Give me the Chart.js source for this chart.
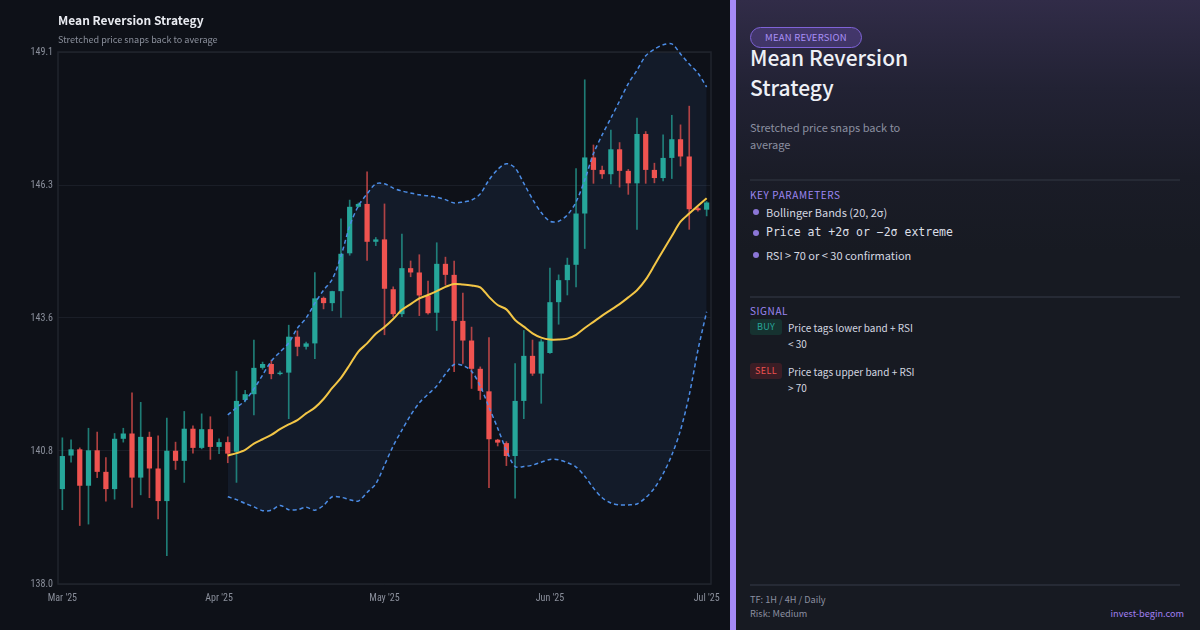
<!DOCTYPE html>
<html><head><meta charset="utf-8">
<script src="https://cdn.jsdelivr.net/npm/chart.js@4.4.1/dist/chart.umd.min.js"></script>
<style>
html,body{margin:0;padding:0;width:1200px;height:630px;overflow:hidden;background:#0e1118;font-family:'Noto Sans CJK KR','Noto Sans',sans-serif;}
#left{position:absolute;left:0;top:0;width:730px;height:630px;background:#0e1118;}
#c{position:absolute;left:0;top:0;}
#title{position:absolute;left:58px;top:11px;font-size:12px;font-weight:700;color:#e9ebf1;white-space:nowrap;}
#sub{position:absolute;left:58px;top:32px;font-size:9.1px;color:#8a8f9b;white-space:nowrap;}
#accent{position:absolute;left:730px;top:0;width:6px;height:630px;background:#a58af6;}
#right{position:absolute;left:736px;top:0;width:464px;height:630px;background:linear-gradient(180deg,#312c48 0%,#222234 14%,#1a1c27 28%,#171a22 40%,#171a22 100%);}
.abs{position:absolute;white-space:nowrap;}
#pill{left:750px;top:27px;width:110px;height:19px;border:1px solid #7f63d8;border-radius:11px;background:rgba(124,95,214,0.28);color:#a88ff7;font-size:9.5px;text-align:center;line-height:19px;letter-spacing:0.2px;}
#rtitle{left:750px;top:42px;font-size:21px;font-weight:500;color:#eef0f6;line-height:30px;}
#rsub{left:750px;top:119px;font-size:11px;color:#8b8fa0;line-height:17px;}
.div{position:absolute;left:750px;width:430px;height:2px;background:#262a35;}
.hdr{font-size:10px;letter-spacing:0.6px;color:#9d86f2;}
.bul{font-size:11px;color:#d4d7e0;}
.dot{position:absolute;width:6px;height:6px;border-radius:3px;background:#8b76d6;}
.mono{font-family:'DejaVu Sans Mono',monospace;font-size:11.5px;color:#dcdfe7;}
.badge{position:absolute;left:750px;width:32px;height:16px;border-radius:3px;font-size:9px;text-align:center;line-height:16px;letter-spacing:0.4px;}
.sig{font-size:10px;color:#d4d7e0;line-height:16px;}
.foot{font-size:9.2px;color:#8b8fa0;}
</style></head>
<body>
<div id="left"></div>
<canvas id="c" width="730" height="630"></canvas>
<div id="title">Mean Reversion Strategy</div>
<div id="sub">Stretched price snaps back to average</div>
<div id="accent"></div>
<div id="right"></div>
<div id="pill" class="abs">MEAN REVERSION</div>
<div id="rtitle" class="abs">Mean Reversion<br>Strategy</div>
<div id="rsub" class="abs">Stretched price snaps back to<br>average</div>
<div class="div" style="top:179px"></div>
<div class="abs hdr" style="left:750px;top:187px;">KEY PARAMETERS</div>
<div class="dot" style="left:753px;top:209px"></div>
<div class="abs bul" style="left:766px;top:204px;">Bollinger Bands (20, 2σ)</div>
<div class="dot" style="left:753px;top:230px"></div>
<div class="abs mono" style="left:766px;top:225px;">Price at +2σ or −2σ extreme</div>
<div class="dot" style="left:753px;top:252px"></div>
<div class="abs bul" style="left:766px;top:247px;">RSI &gt; 70 or &lt; 30 confirmation</div>
<div class="div" style="top:296px"></div>
<div class="abs hdr" style="left:750px;top:303px;">SIGNAL</div>
<div class="badge" style="top:319px;background:#163230;color:#26a69a;">BUY</div>
<div class="abs sig" style="left:788px;top:320px;">Price tags lower band + RSI<br>&lt; 30</div>
<div class="badge" style="top:363px;background:#3b1d25;color:#ef5350;">SELL</div>
<div class="abs sig" style="left:788px;top:364px;">Price tags upper band + RSI<br>&gt; 70</div>
<div class="div" style="top:584px"></div>
<div class="abs foot" style="left:750px;top:592px;">TF: 1H / 4H / Daily</div>
<div class="abs foot" style="left:750px;top:606px;">Risk: Medium</div>
<div class="abs foot" style="right:16px;top:606px;color:#a07ff0;">invest-begin.com</div>
<script>
// ---- data ----
const xTickLabels = {0: "Mar '25", 18: "Apr '25", 37: "May '25", 56: "Jun '25", 74: "Jul '25"};
const yTickValues = [138.0, 140.775, 143.55, 146.325, 149.1];
const yTickLabels = ["138.0", "140.8", "143.6", "146.3", "149.1"];
const opens  = [139.98,140.68,140.81,140.05,140.79,140.34,139.98,141.03,141.14,140.22,141.07,140.41,139.73,140.78,140.57,141.24,140.84,141.23,140.86,140.96,
                140.76,141.84,141.96,142.51,142.59,142.38,142.41,143.16,142.95,143.02,143.97,143.86,144.11,144.90,145.87,145.93,145.14,145.19,144.15,143.63,
                144.59,144.50,144.02,143.66,144.68,144.45,143.49,143.08,142.49,142.02,141.01,140.94,140.67,141.82,142.76,142.39,142.82,143.88,144.34,144.66,
                145.73,146.90,146.64,146.55,147.07,146.62,146.36,147.39,146.64,146.47,146.89,147.28,146.92,145.84,145.81];
const highs  = [141.05,141.01,140.84,141.25,141.17,140.64,141.14,141.25,141.99,141.79,141.17,141.09,141.46,140.96,141.60,141.30,141.55,141.49,141.03,141.07,
                142.44,142.04,143.09,142.63,142.67,142.44,143.40,143.28,143.05,144.50,143.99,144.11,145.62,146.01,145.95,146.60,145.23,145.93,144.20,145.30,
                144.74,144.87,144.32,145.12,144.82,144.74,144.07,143.36,142.53,143.14,141.02,140.97,142.60,143.29,143.09,143.10,144.59,144.45,144.80,146.67,
                148.52,147.16,146.72,147.47,147.21,146.65,147.72,147.44,146.78,147.37,147.78,147.58,147.97,145.86,145.98];
const lows   = [139.55,140.54,139.22,139.25,140.22,139.73,139.77,140.96,139.60,139.86,139.80,139.36,138.59,140.39,140.12,140.73,140.82,140.60,140.72,140.53,
                140.12,141.80,141.53,142.48,142.28,142.36,141.45,142.76,142.90,142.70,143.74,143.70,143.56,144.86,145.86,144.75,145.06,143.20,143.58,143.58,
                144.41,143.60,143.63,143.29,144.24,142.43,142.60,142.08,141.85,140.01,140.88,140.47,139.79,141.45,142.35,141.77,142.81,143.42,144.03,144.20,
                145.00,146.36,146.46,146.35,146.28,146.13,145.40,146.36,146.37,146.41,146.46,146.72,145.40,145.78,145.68];
const closes = [140.67,140.81,140.05,140.79,140.34,139.98,141.03,141.14,140.22,141.07,140.41,139.73,140.78,140.57,141.24,140.84,141.23,140.86,140.96,140.72,
                141.82,141.96,142.51,142.59,142.38,142.41,143.16,142.95,143.02,143.96,143.86,144.11,144.89,145.87,145.93,145.14,145.19,144.16,143.63,144.59,
                144.50,144.02,143.65,144.68,144.45,143.49,143.08,142.49,142.03,141.02,140.95,140.67,141.82,142.76,142.39,143.06,143.88,144.34,144.66,145.73,
                146.90,146.64,146.55,147.07,146.62,146.36,147.39,146.64,146.47,146.89,147.28,146.92,145.82,145.80,145.96];
// 20-period SMA and 2-sigma bands (candles 19..74)
const bandStart = 19;
const smaLine = [140.68,140.73,140.80,140.93,141.02,141.11,141.23,141.33,141.42,141.56,141.68,141.86,142.09,142.30,142.57,142.85,143.02,143.22,143.36,143.53,
                 143.72,143.84,143.96,144.03,144.11,144.20,144.26,144.25,144.23,144.19,143.99,143.82,143.73,143.51,143.37,143.23,143.14,143.10,143.10,143.12,
                 143.20,143.34,143.47,143.60,143.72,143.84,143.98,144.13,144.35,144.65,144.96,145.26,145.56,145.73,145.89,146.05];
const upperBand = [141.53,141.68,141.83,142.07,142.36,142.65,142.84,143.03,143.34,143.55,143.86,144.13,144.36,144.84,145.47,145.89,146.14,146.35,146.35,146.26,
                   146.20,146.16,146.12,146.10,146.07,146.02,145.95,145.97,146.01,146.14,146.43,146.65,146.77,146.68,146.36,146.03,145.75,145.57,145.57,145.70,
                   145.97,146.43,146.98,147.37,147.72,148.08,148.44,148.72,149.02,149.16,149.25,149.27,149.06,148.85,148.66,148.37];
const lowerBand = [139.82,139.76,139.68,139.61,139.53,139.54,139.64,139.55,139.55,139.60,139.54,139.64,139.82,139.81,139.76,139.73,139.91,140.09,140.48,140.88,
                   141.21,141.52,141.78,141.96,142.13,142.38,142.58,142.56,142.44,142.13,141.69,141.25,140.79,140.45,140.45,140.48,140.54,140.60,140.59,140.53,
                   140.44,140.25,140.00,139.80,139.69,139.65,139.65,139.67,139.80,140.00,140.30,140.69,141.21,141.94,142.88,143.68];
const categories = opens.map((_, i) => 'D' + (i + 1));

// ---- build ----
const UP = '#26a69a', DOWN = '#ef5350';
const UPW = 'rgba(38,166,154,0.72)', DOWNW = 'rgba(239,83,80,0.72)';
const pad = arr => new Array(bandStart).fill(null).concat(arr);
const bodyColors = opens.map((o, i) => closes[i] >= o ? UP : DOWN);
const wickColors = opens.map((o, i) => closes[i] >= o ? UPW : DOWNW);

Chart.defaults.font.family = "'Liberation Sans Narrow','Roboto Condensed',Roboto,sans-serif";

const framePlugin = {
  id: 'frame',
  beforeDatasetsDraw(chart) {
    const {ctx, chartArea: a} = chart;
    ctx.save();
    ctx.strokeStyle = '#20242d';
    ctx.lineWidth = 1.5;
    ctx.strokeRect(a.left, a.top, a.right - a.left, a.bottom - a.top);
    ctx.restore();
  }
};

new Chart(document.getElementById('c'), {
  data: {
    labels: categories,
    datasets: [
      {type: 'line', label: 'Upper', data: pad(upperBand), borderColor: '#4c8de6', borderWidth: 1.5, borderDash: [4, 3],
       pointRadius: 0, tension: 0.3, fill: {target: 1}, backgroundColor: 'rgba(74,130,220,0.09)', order: 1, clip: false},
      {type: 'line', label: 'Lower', data: pad(lowerBand), borderColor: '#4c8de6', borderWidth: 1.5, borderDash: [4, 3],
       pointRadius: 0, tension: 0.3, fill: false, order: 1, clip: false},
      {type: 'line', label: 'SMA', data: pad(smaLine), borderColor: '#f3c646', borderWidth: 2,
       pointRadius: 0, tension: 0.3, fill: false, order: 0},
      {type: 'bar', label: 'Wick', data: lows.map((l, i) => [l, highs[i]]), backgroundColor: wickColors,
       barThickness: 1, grouped: false, order: 3},
      {type: 'bar', label: 'Body', data: opens.map((o, i) => [o, closes[i]]), backgroundColor: bodyColors,
       barPercentage: 0.6, categoryPercentage: 1, grouped: false, order: 2}
    ]
  },
  options: {
    responsive: false,
    animation: false,
    devicePixelRatio: 1,
    layout: {padding: {left: 0, top: 52, right: 19, bottom: 0}},
    plugins: {legend: {display: false}, tooltip: {enabled: false}, filler: {drawTime: 'beforeDatasetsDraw'}},
    scales: {
      x: {
        type: 'category', offset: true,
        grid: {display: false, drawTicks: false}, border: {display: false},
        ticks: {autoSkip: false, maxRotation: 0, padding: 8, color: '#8a8f9b', font: {size: 10},
                callback: (v, i) => (xTickLabels[i] !== undefined ? xTickLabels[i] : null)},
        afterFit: s => { s.height = 46; }
      },
      y: {
        min: 138.0, max: 149.1,
        grid: {color: '#1a1e27', drawTicks: false}, border: {display: false},
        ticks: {padding: 5, color: '#8a8f9b', font: {size: 10}, callback: (v, i) => yTickLabels[i]},
        afterBuildTicks: s => { s.ticks = yTickValues.map(v => ({value: v})); },
        afterFit: s => { s.width = 58; }
      }
    }
  },
  plugins: [framePlugin]
});
</script>
</body></html>
